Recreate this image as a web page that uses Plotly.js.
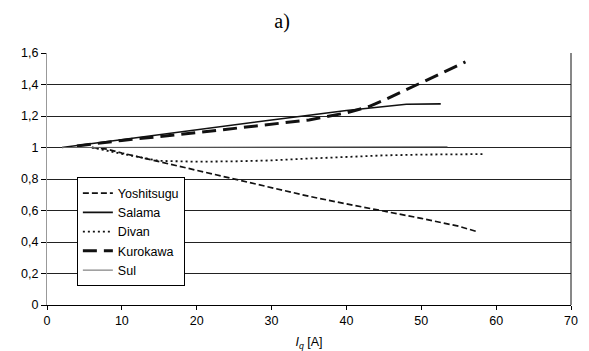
<!DOCTYPE html>
<html>
<head>
<meta charset="utf-8">
<script src="https://cdn.plot.ly/plotly-3.0.1.min.js"></script>
<style>
  html, body { margin: 0; padding: 0; background: #fff; }
  #chart { width: 589px; height: 351px; }
</style>
</head>
<body>
<div id="chart"></div>
<script>
// Normalised quantity versus q-axis current I_q [A] for five methods

const seriesNames = ['Yoshitsugu', 'Salama', 'Divan', 'Kurokawa', 'Sul'];

const yoshitsuguX = [6, 8, 10, 15, 20, 25, 30, 35, 40, 45, 50, 55, 57.5];
const yoshitsuguY = [1.0, 0.99, 0.965, 0.91, 0.855, 0.8, 0.742, 0.69, 0.642, 0.597, 0.55, 0.5, 0.465];

const salamaX = [2, 10, 20, 30, 40, 45, 48, 52.6];
const salamaY = [1.0, 1.05, 1.115, 1.175, 1.235, 1.26, 1.275, 1.277];

const divanX = [6, 10, 15, 20, 25, 30, 35, 40, 45, 50, 58.3];
const divanY = [1.0, 0.96, 0.915, 0.91, 0.912, 0.918, 0.93, 0.94, 0.95, 0.955, 0.958];

const kurokawaX = [4, 10, 20, 30, 35, 40, 43, 45, 50, 55.9];
const kurokawaY = [1.01, 1.045, 1.094, 1.15, 1.175, 1.22, 1.26, 1.3, 1.41, 1.543];

const sulX = [2, 20, 40, 53.5];
const sulY = [1.0, 1.002, 1.004, 1.005];

const xTicks = [0, 10, 20, 30, 40, 50, 60, 70];
const yTicks = [0, 0.2, 0.4, 0.6, 0.8, 1, 1.2, 1.4, 1.6];

const axisFont = { family: 'Liberation Sans, Arial, sans-serif', size: 12.5, color: '#000' };

const traces = [
  { x: yoshitsuguX, y: yoshitsuguY, name: seriesNames[0], mode: 'lines',
    line: { color: '#111', width: 1.7, dash: '6px,3px' } },
  { x: salamaX, y: salamaY, name: seriesNames[1], mode: 'lines',
    line: { color: '#111', width: 1.6 } },
  { x: divanX, y: divanY, name: seriesNames[2], mode: 'lines',
    line: { color: '#111', width: 1.8, dash: '2px,3px' } },
  { x: kurokawaX, y: kurokawaY, name: seriesNames[3], mode: 'lines',
    line: { color: '#111', width: 3, dash: '14px,7px' } },
  { x: sulX, y: sulY, name: seriesNames[4], mode: 'lines',
    line: { color: '#666', width: 1 } }
];

const layout = {
  width: 589,
  height: 351,
  margin: { l: 47, r: 18, t: 53, b: 46 },
  paper_bgcolor: '#fff',
  plot_bgcolor: '#fff',
  separators: ',.',
  font: axisFont,
  showlegend: true,
  title: {
    text: 'a)',
    font: { family: 'Liberation Serif, Times New Roman, serif', size: 20, color: '#000' },
    xref: 'container', x: 0.479, xanchor: 'center',
    yref: 'container', y: 0.94, yanchor: 'middle'
  },
  xaxis: {
    range: [0, 70],
    tickvals: xTicks,
    ticks: 'outside', ticklen: 4, tickcolor: '#000',
    showgrid: false, zeroline: false,
    showline: true, linecolor: '#000', linewidth: 1,
    tickfont: axisFont,
    title: { text: '<i>I<sub>q</sub></i> [A]', font: axisFont, standoff: 12 },
    automargin: false,
    fixedrange: true
  },
  yaxis: {
    range: [0, 1.6],
    tickvals: yTicks,
    ticks: 'outside', ticklen: 5, tickcolor: '#000',
    showgrid: true, gridcolor: '#222', gridwidth: 1,
    zeroline: false,
    showline: true, linecolor: '#999', linewidth: 1,
    tickfont: axisFont,
    fixedrange: true
  },
  legend: {
    x: 0.057, y: 0.506, xanchor: 'left', yanchor: 'top',
    bgcolor: '#fff', bordercolor: '#000', borderwidth: 1,
    font: { family: 'Liberation Sans, Arial, sans-serif', size: 12.5, color: '#000' },
    itemwidth: 30
  },
  shapes: [
    { type: 'line', xref: 'paper', yref: 'paper', x0: 1, x1: 1, y0: 0, y1: 1,
      line: { color: '#111', width: 1 } }
  ]
};

Plotly.newPlot('chart', traces, layout, { displayModeBar: false, staticPlot: true });
</script>
</body>
</html>
